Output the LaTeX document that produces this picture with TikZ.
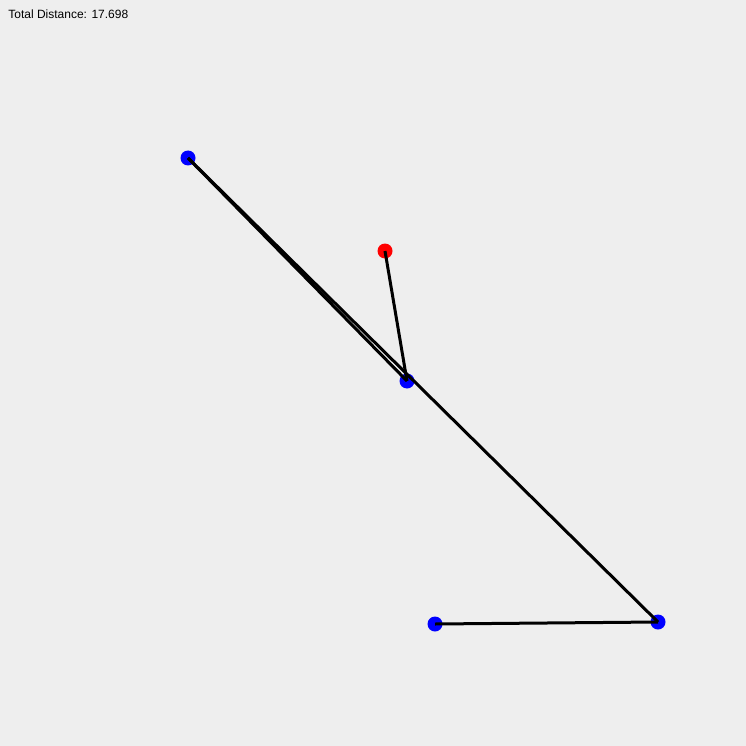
\documentclass[tikz,border=0pt]{standalone}
\usepackage{fontspec}
\setmainfont{Liberation Sans}
\usepackage{xcolor}
\usetikzlibrary{positioning}
\definecolor{bgray}{HTML}{EEEEEE}

\begin{document}
\begin{tikzpicture}[x=1pt, y=-1pt, thick,
    city/.style={circle, fill=blue, inner sep=0pt, minimum size=15pt},
    start/.style={circle, fill=red, inner sep=0pt, minimum size=15pt},
    tour/.style={line width=3pt, black}]
    % Background
    \fill[bgray] (0,0) rectangle (746,746);
    \useasboundingbox (0,0) rectangle (746,746);

    % Label
    \node (total) [anchor=base west, inner sep=0pt, font=\fontsize{12}{14}\selectfont] at (8,19) {Total Distance: 17.698};

    % Nodes
    \node (home) [start] at (385,251) {};
    \node (c1) [city] at (407,381) {};
    \node (c2) [city] at (188,158) {};
    \node (c3) [city] at (658,622) {};
    \node (c4) [city] at (435,624) {};

    % Tour
    \draw[tour] (home.center) -- (c1.center);
    \draw[tour] (c1.center) -- (c2.center);
    \draw[tour] (c2.center) -- (c3.center);
    \draw[tour] (c3.center) -- (c4.center);

\end{tikzpicture}
\end{document}
